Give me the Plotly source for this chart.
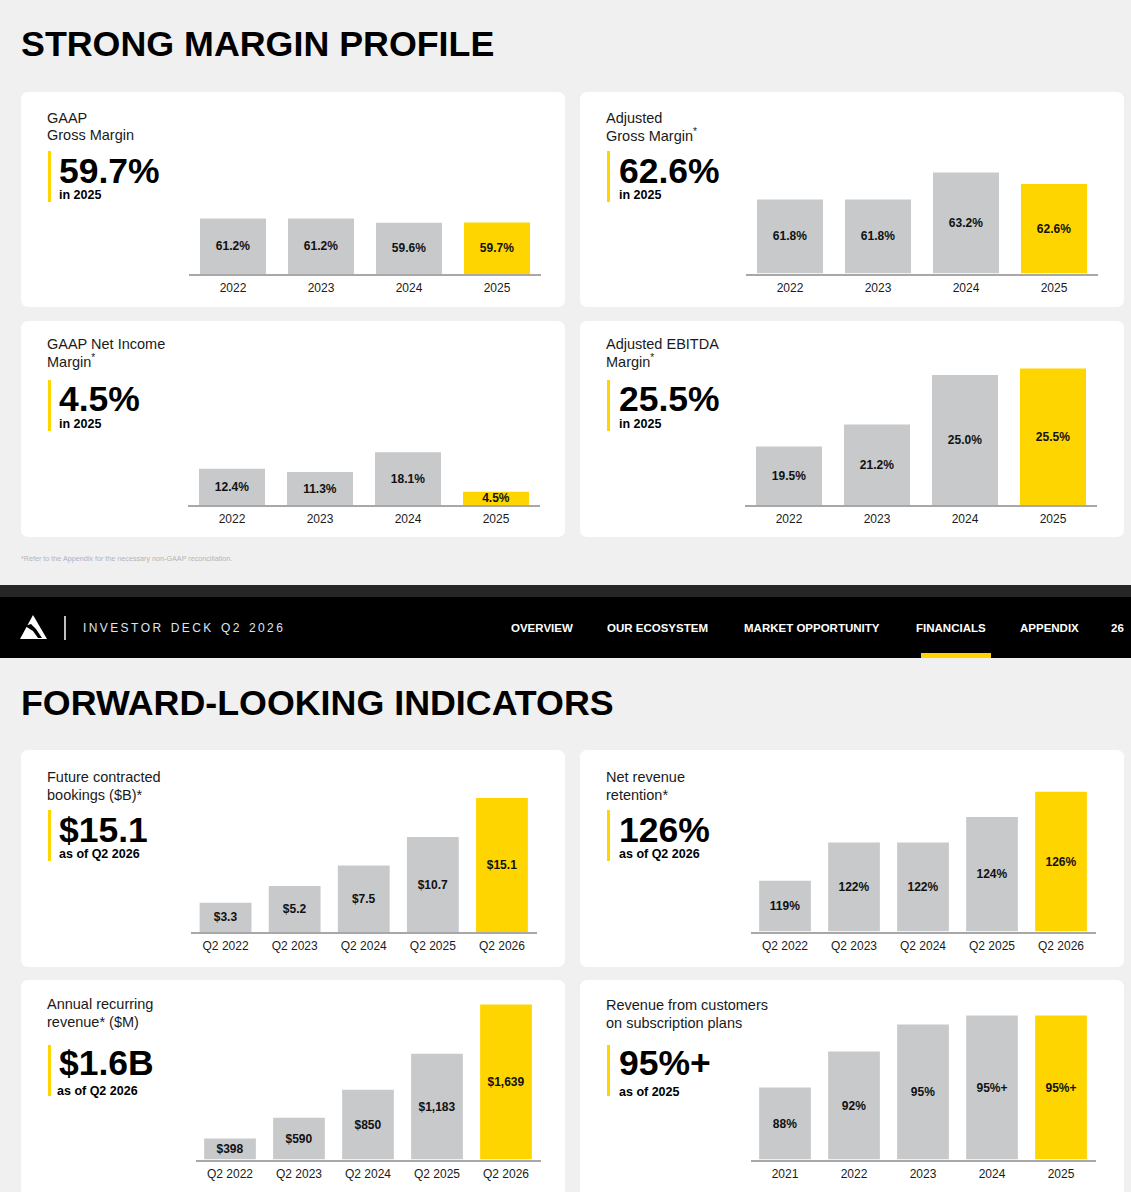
import plotly.graph_objects as go

# ---- data ----
margin_years = ["2022", "2023", "2024", "2025"]
gaap_gross_margin = [61.2, 61.2, 59.6, 59.7]
adj_gross_margin = [61.8, 61.8, 63.2, 62.6]
gaap_net_income_margin = [12.4, 11.3, 18.1, 4.5]
adj_ebitda_margin = [19.5, 21.2, 25.0, 25.5]

quarters = ["Q2 2022", "Q2 2023", "Q2 2024", "Q2 2025", "Q2 2026"]
bookings_b = [3.3, 5.2, 7.5, 10.7, 15.1]
net_revenue_retention = [119, 122, 122, 124, 126]
arr_m = [398, 590, 850, 1183, 1639]

subscription_years = ["2021", "2022", "2023", "2024", "2025"]
subscription_share = [88, 92, 95, 96, 96]  # "95%+" drawn a bit above 95
subscription_labels = ["88%", "92%", "95%", "95%+", "95%+"]

W, H = 1131, 1192
FONT = "Liberation Sans, Arial, sans-serif"
BG = "#F1F0F0"
GREY = "#C7C9CB"
YELLOW = "#FFD500"


def fx(px):
    return px / W


def fy(py):
    return 1 - py / H


def rounded_rect(x0, y0, x1, y1, r=8):
    pts = [
        f"M {fx(x0 + r)},{fy(y0)}",
        f"L {fx(x1 - r)},{fy(y0)}",
        f"Q {fx(x1)},{fy(y0)} {fx(x1)},{fy(y0 + r)}",
        f"L {fx(x1)},{fy(y1 - r)}",
        f"Q {fx(x1)},{fy(y1)} {fx(x1 - r)},{fy(y1)}",
        f"L {fx(x0 + r)},{fy(y1)}",
        f"Q {fx(x0)},{fy(y1)} {fx(x0)},{fy(y1 - r)}",
        f"L {fx(x0)},{fy(y0 + r)}",
        f"Q {fx(x0)},{fy(y0)} {fx(x0 + r)},{fy(y0)}",
        "Z",
    ]
    return " ".join(pts)


def poly(points):
    return "M " + " L ".join(f"{fx(x)},{fy(y)}" for x, y in points) + " Z"


# panel layout: card box, axis span (px), baseline (px), axis floor, px per unit
panels = [
    dict(card=(21, 92, 565, 307), ax=(189, 541), base_px=274, floor=41.0, scale=2.75,
         cats=margin_years, vals=gaap_gross_margin,
         labels=[f"{v:.1f}%" for v in gaap_gross_margin],
         title=["GAAP", "Gross Margin"], big="59.7%", sub="in 2025",
         tx=47, bx=59, ty=(118, 135), by=171, sy=195, acc=(151, 202)),
    dict(card=(580, 92, 1124, 307), ax=(746, 1098), base_px=273.5, floor=57.96, scale=19.29,
         cats=margin_years, vals=adj_gross_margin,
         labels=[f"{v:.1f}%" for v in adj_gross_margin],
         title=["Adjusted", "Gross Margin<sup>*</sup>"], big="62.6%", sub="in 2025",
         tx=606, bx=619, ty=(118, 135), by=171, sy=195, acc=(151, 202)),
    dict(card=(21, 321, 565, 537), ax=(188, 540), base_px=505, floor=0, scale=2.92,
         cats=margin_years, vals=gaap_net_income_margin,
         labels=[f"{v:.1f}%" for v in gaap_net_income_margin],
         title=["GAAP Net Income", "Margin<sup>*</sup>"], big="4.5%", sub="in 2025",
         tx=47, bx=59, ty=(344, 361), by=399, sy=424, acc=(380, 431)),
    dict(card=(580, 321, 1124, 537), ax=(745, 1097), base_px=505, floor=15.0, scale=13.0,
         cats=margin_years, vals=adj_ebitda_margin,
         labels=[f"{v:.1f}%" for v in adj_ebitda_margin],
         title=["Adjusted EBITDA", "Margin<sup>*</sup>"], big="25.5%", sub="in 2025",
         tx=606, bx=619, ty=(344, 361), by=399, sy=424, acc=(380, 431)),
    dict(card=(21, 750, 565, 967), ax=(191, 536.5), base_px=932, floor=0, scale=8.87,
         cats=quarters, vals=bookings_b,
         labels=[f"${v:.1f}" for v in bookings_b],
         title=["Future contracted", "bookings ($B)*"], big="$15.1", sub="as of Q2 2026",
         tx=47, bx=59, ty=(777, 795), by=830, sy=854, acc=(810, 861)),
    dict(card=(580, 750, 1124, 967), ax=(750.5, 1095.5), base_px=931.5, floor=115.0, scale=12.71,
         cats=quarters, vals=net_revenue_retention,
         labels=[f"{v}%" for v in net_revenue_retention],
         title=["Net revenue", "retention*"], big="126%", sub="as of Q2 2026",
         tx=606, bx=619, ty=(777, 795), by=830, sy=854, acc=(810, 861)),
    dict(card=(21, 980, 565, 1210), ax=(195.5, 540.5), base_px=1159.5, floor=204, scale=0.108,
         cats=quarters, vals=arr_m,
         labels=[f"${v:,}" for v in arr_m],
         title=["Annual recurring", "revenue* ($M)"], big="$1.6B", sub="as of Q2 2026",
         tx=47, bx=59, sx=57, ty=(1004, 1022), by=1063, sy=1091, acc=(1045, 1096)),
    dict(card=(580, 980, 1124, 1210), ax=(750.5, 1095.5), base_px=1159.5, floor=80, scale=9.0,
         cats=subscription_years, vals=subscription_share,
         labels=subscription_labels,
         title=["Revenue from customers", "on subscription plans"], big="95%+", sub="as of 2025",
         tx=606, bx=619, ty=(1005, 1023), by=1063, sy=1092, acc=(1045, 1096)),
]

fig = go.Figure()
shapes = []
annotations = []
layout_axes = {}

# cards first so they sit below everything
for p in panels:
    x0, y0, x1, y1 = p["card"]
    shapes.append(dict(type="path", xref="paper", yref="paper", path=rounded_rect(x0, y0, x1, y1),
                       fillcolor="white", line=dict(width=0), layer="below"))

for i, p in enumerate(panels, start=1):
    xa = "x" if i == 1 else f"x{i}"
    ya = "y" if i == 1 else f"y{i}"
    n = len(p["vals"])
    colors = [GREY] * (n - 1) + [YELLOW]
    top_px = p["card"][1] + 12
    y_top = p["floor"] + (p["base_px"] - top_px) / p["scale"]

    fig.add_trace(go.Bar(
        x=p["cats"], y=[v - p["floor"] for v in p["vals"]], base=p["floor"],
        marker=dict(color=colors, line=dict(width=0)),
        text=p["labels"], textposition="inside", insidetextanchor="middle",
        constraintext="none", textangle=0,
        insidetextfont=dict(family=FONT, size=12, color="#111111", weight="bold"),
        hoverinfo="skip", showlegend=False, xaxis=xa, yaxis=ya,
    ))

    layout_axes["xaxis" if i == 1 else f"xaxis{i}"] = dict(
        domain=[fx(p["ax"][0]), fx(p["ax"][1])], anchor=ya, type="category",
        showline=True, linecolor="#A8A8A8", linewidth=2, showgrid=False, zeroline=False,
        ticks="", ticklabelstandoff=2, fixedrange=True,
        tickfont=dict(family=FONT, size=12, color="#1a1a1a"),
    )
    layout_axes["yaxis" if i == 1 else f"yaxis{i}"] = dict(
        domain=[fy(p["base_px"]), fy(top_px)], anchor=xa, range=[p["floor"], y_top],
        visible=False, fixedrange=True,
    )

    # card text (annotations carry ~2px of padding, hence the -2)
    for line, ty in zip(p["title"], p["ty"]):
        annotations.append(dict(text=line, x=fx(p["tx"] - 2), y=fy(ty), xref="paper", yref="paper",
                                xanchor="left", yanchor="middle", showarrow=False,
                                font=dict(family=FONT, size=14.5, color="#1a1a1a")))
    annotations.append(dict(text=p["big"], x=fx(p["bx"] - 2), y=fy(p["by"]), xref="paper", yref="paper",
                            xanchor="left", yanchor="middle", showarrow=False,
                            font=dict(family=FONT, size=35.5, color="black", weight="bold")))
    annotations.append(dict(text=p["sub"], x=fx(p.get("sx", p["bx"]) - 2), y=fy(p["sy"]),
                            xref="paper", yref="paper", xanchor="left", yanchor="middle",
                            showarrow=False,
                            font=dict(family=FONT, size=12.5, color="black", weight="bold")))
    ax0 = p["tx"] + 1
    shapes.append(dict(type="rect", xref="paper", yref="paper",
                       x0=fx(ax0), x1=fx(ax0 + 3), y0=fy(p["acc"][1]), y1=fy(p["acc"][0]),
                       fillcolor=YELLOW, line=dict(width=0)))

# section headings
annotations.append(dict(text="STRONG MARGIN PROFILE", x=fx(19), y=fy(44), xref="paper", yref="paper",
                        xanchor="left", yanchor="middle", showarrow=False,
                        font=dict(family=FONT, size=35.8, color="black", weight="bold")))
annotations.append(dict(text="FORWARD-LOOKING INDICATORS", x=fx(19), y=fy(703), xref="paper", yref="paper",
                        xanchor="left", yanchor="middle", showarrow=False,
                        font=dict(family=FONT, size=35.8, color="black", weight="bold")))

# footnote
annotations.append(dict(
    text="*Refer to the <span style='color:#9DB3CF'>Appendix</span> for the necessary non-GAAP reconciliation.",
    x=fx(19), y=fy(558), xref="paper", yref="paper", xanchor="left", yanchor="middle",
    showarrow=False, font=dict(family=FONT, size=7.2, color="#B4B4B4")))

# navigation bar
shapes.append(dict(type="rect", xref="paper", yref="paper", x0=0, x1=1, y0=fy(597), y1=fy(585),
                   fillcolor="#262626", line=dict(width=0)))
shapes.append(dict(type="rect", xref="paper", yref="paper", x0=0, x1=1, y0=fy(658), y1=fy(597),
                   fillcolor="black", line=dict(width=0)))
shapes.append(dict(type="rect", xref="paper", yref="paper", x0=fx(921), x1=fx(991), y0=fy(658), y1=fy(653),
                   fillcolor=YELLOW, line=dict(width=0)))
# logo
shapes.append(dict(type="path", xref="paper", yref="paper",
                   path=poly([(33, 615), (47, 639), (20, 639)]), fillcolor="white", line=dict(width=0)))
shapes.append(dict(type="path", xref="paper", yref="paper",
                   path=poly([(25, 626), (31, 624), (36, 629), (42, 638), (38, 638), (33, 631)]),
                   fillcolor="black", line=dict(width=0)))
shapes.append(dict(type="line", xref="paper", yref="paper", x0=fx(65), x1=fx(65), y0=fy(640), y1=fy(616),
                   line=dict(color="white", width=1.5)))

annotations.append(dict(text="\u2009".join("INVESTOR DECK Q2 2026").replace("\u2009 \u2009", "\u2009\u2009\u2009\u2009"),
                        x=fx(81), y=fy(628), xref="paper", yref="paper", xanchor="left", yanchor="middle",
                        showarrow=False, font=dict(family=FONT, size=12, color="#DCE6F2")))
nav_items = [("OVERVIEW", 511), ("OUR ECOSYSTEM", 607), ("MARKET OPPORTUNITY", 744),
             ("FINANCIALS", 916), ("APPENDIX", 1020), ("26", 1111)]
for label, nx in nav_items:
    annotations.append(dict(text=label, x=fx(nx - 2), y=fy(628), xref="paper", yref="paper",
                            xanchor="left", yanchor="middle", showarrow=False,
                            font=dict(family=FONT, size=11.5, color="white", weight="bold")))

fig.update_layout(
    width=W, height=H, margin=dict(l=0, r=0, t=0, b=0),
    paper_bgcolor=BG, plot_bgcolor="rgba(0,0,0,0)",
    bargap=0.25, showlegend=False,
    shapes=shapes, annotations=annotations,
    font=dict(family=FONT),
    **layout_axes,
)

# the page body has a default 8px margin; drop it so the slide sits flush in the window
fig.write_html("out.html", config={"displayModeBar": False},
               post_script="document.body.style.margin='0';document.body.style.overflow='hidden';")
